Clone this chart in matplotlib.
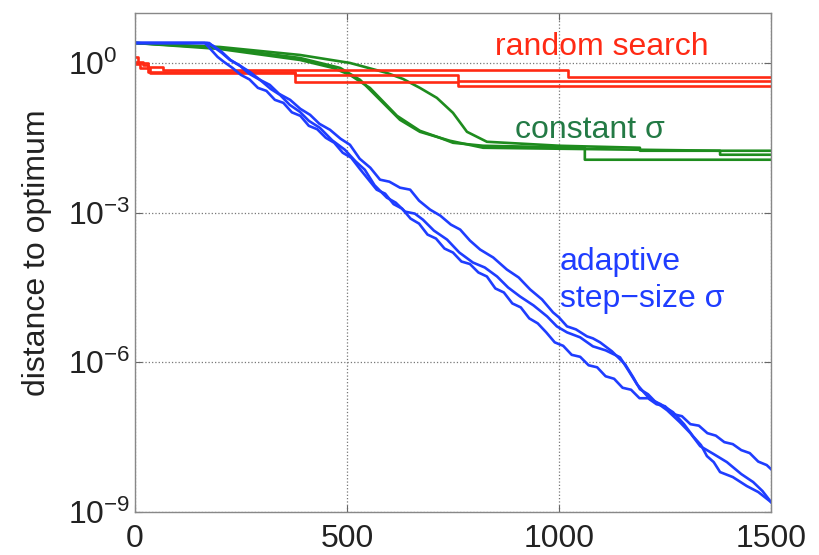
import numpy as np
import matplotlib
matplotlib.use("Agg")
import matplotlib.pyplot as plt
from matplotlib.ticker import FixedLocator, LogFormatterSciNotation, NullLocator

plt.rcParams['font.family'] = ['Liberation Sans', 'DejaVu Sans']
plt.rcParams['mathtext.fontset'] = 'custom'
plt.rcParams['mathtext.rm'] = 'Liberation Sans'
plt.rcParams['mathtext.it'] = 'Liberation Sans:italic'
plt.rcParams['mathtext.default'] = 'regular'

# distance to optimum, stored as log10 values
# random search: best-so-far, piecewise constant
rand1_x = [0, 8, 30, 66, 1022, 1500]
rand1_log = [0.12, 0.0, -0.08, -0.14, -0.28, -0.28]
rand2_x = [0, 20, 31, 377, 762, 1500]
rand2_log = [0.02, -0.04, -0.18, -0.24, -0.36, -0.36]
rand3_x = [0, 12, 35, 377, 762, 1500]
rand3_log = [-0.02, -0.10, -0.20, -0.38, -0.46, -0.46]

# constant step size
const1_x = [0, 200, 389, 467, 507, 554, 618, 672, 719, 750, 821, 1061, 1061, 1500]
const1_log = [0.40, 0.28, 0.06, -0.10, -0.24, -0.50, -1.06, -1.36, -1.50, -1.60, -1.66, -1.70, -1.94, -1.94]
const2_x = [0, 200, 389, 484, 531, 578, 625, 672, 743, 821, 1191, 1380, 1380, 1500]
const2_log = [0.40, 0.30, 0.10, -0.10, -0.34, -0.74, -1.14, -1.38, -1.56, -1.70, -1.74, -1.76, -1.84, -1.84]
const3_x = [0, 200, 389, 507, 594, 632, 672, 712, 750, 783, 830, 1002, 1191, 1191, 1500]
const3_log = [0.40, 0.32, 0.16, 0.0, -0.20, -0.32, -0.50, -0.70, -1.00, -1.38, -1.58, -1.66, -1.70, -1.76, -1.76]

# adaptive step size
adapt1_x = [0, 165, 180, 195, 210, 230, 250, 270, 290, 310, 330, 350, 370, 390, 410, 430,
            450, 470, 490, 510, 530, 550, 570, 590, 610, 630, 650, 670, 690, 710, 730, 750,
            770, 790, 810, 830, 850, 870, 890, 910, 930, 950, 970, 990, 1010, 1030, 1050,
            1070, 1090, 1110, 1130, 1150, 1170, 1190, 1210, 1230, 1250, 1270, 1290, 1310,
            1330, 1350, 1370, 1390, 1410, 1430, 1450, 1470, 1490, 1500]
adapt1_log = [0.40, 0.40, 0.26, 0.12, 0.02, -0.10, -0.24, -0.33, -0.50, -0.56, -0.74, -0.80,
              -0.99, -1.06, -1.26, -1.33, -1.50, -1.60, -1.80, -1.90, -2.12, -2.33, -2.54,
              -2.62, -2.83, -2.92, -3.12, -3.22, -3.44, -3.52, -3.72, -3.80, -3.98, -4.03,
              -4.20, -4.28, -4.52, -4.60, -4.82, -4.90, -5.12, -5.22, -5.40, -5.60, -5.67,
              -5.85, -5.89, -6.06, -6.10, -6.28, -6.33, -6.51, -6.55, -6.72, -6.72, -6.84,
              -6.88, -7.04, -7.08, -7.24, -7.27, -7.42, -7.47, -7.60, -7.64, -7.76, -7.82,
              -7.99, -8.06, -8.14]
adapt2_x = [0, 170, 185, 205, 225, 248, 270, 295, 320, 342, 365, 389, 410, 436, 465, 495,
            520, 542, 565, 594, 615, 637, 660, 679, 705, 736, 765, 797, 825, 854, 880, 908,
            940, 972, 995, 1019, 1050, 1080, 1110, 1144, 1165, 1184, 1200, 1215, 1240, 1269,
            1295, 1316, 1335, 1349, 1365, 1380, 1410, 1443, 1470, 1500]
adapt2_log = [0.40, 0.40, 0.34, 0.22, 0.06, -0.06, -0.22, -0.34, -0.52, -0.64, -0.84, -0.98,
              -1.16, -1.30, -1.55, -1.74, -1.97, -2.14, -2.45, -2.70, -2.80, -2.98, -3.02,
              -3.14, -3.36, -3.54, -3.80, -4.00, -4.10, -4.28, -4.50, -4.68, -4.86, -5.08,
              -5.28, -5.40, -5.50, -5.68, -5.76, -5.90, -6.18, -6.44, -6.60, -6.74, -6.84,
              -7.00, -7.24, -7.48, -7.66, -7.88, -8.00, -8.20, -8.30, -8.48, -8.60, -8.80]
adapt3_x = [0, 175, 189, 205, 224, 245, 271, 295, 318, 340, 366, 390, 413, 435, 460, 485,
            507, 530, 555, 578, 600, 625, 649, 670, 696, 720, 745, 767, 790, 814, 845, 877,
            905, 932, 960, 986, 1000, 1019, 1040, 1066, 1080, 1097, 1125, 1156, 1175, 1191,
            1210, 1226, 1255, 1285, 1310, 1333, 1365, 1396, 1430, 1458, 1480, 1500]
adapt3_log = [0.40, 0.40, 0.30, 0.20, 0.06, -0.04, -0.18, -0.34, -0.44, -0.62, -0.74, -0.92,
              -1.04, -1.22, -1.34, -1.52, -1.64, -1.92, -2.10, -2.34, -2.38, -2.50, -2.54,
              -2.76, -2.94, -3.06, -3.24, -3.34, -3.56, -3.74, -3.90, -4.14, -4.30, -4.54,
              -4.74, -5.00, -5.10, -5.28, -5.34, -5.48, -5.52, -5.60, -5.78, -6.04, -6.30,
              -6.54, -6.64, -6.78, -6.96, -7.20, -7.42, -7.68, -7.84, -8.00, -8.24, -8.40,
              -8.58, -8.80]

x_ticks = [0, 500, 1000, 1500]
y_ticks = [1e-9, 1e-6, 1e-3, 1e0]

red = '#ff2a14'
green = '#1e8c1e'
blue = '#1f3dff'
lw = 1.9

fig = plt.figure(figsize=(8.2, 5.55), dpi=100)
ax = fig.add_axes([0.1646, 0.0775, 0.7756, 0.899])

for xs, ls in [(const1_x, const1_log), (const2_x, const2_log), (const3_x, const3_log)]:
    ax.plot(xs, 10.0 ** np.array(ls), color=green, lw=lw)
for xs, ls in [(rand1_x, rand1_log), (rand2_x, rand2_log), (rand3_x, rand3_log)]:
    ax.step(xs, 10.0 ** np.array(ls), where='post', color=red, lw=lw)
for xs, ls in [(adapt1_x, adapt1_log), (adapt2_x, adapt2_log), (adapt3_x, adapt3_log)]:
    ax.plot(xs, 10.0 ** np.array(ls), color=blue, lw=lw)

ax.set_yscale('log')
ax.set_xlim(0, 1500)
ax.set_ylim(1e-9, 1e1)
ax.xaxis.set_major_locator(FixedLocator(x_ticks))
ax.yaxis.set_major_locator(FixedLocator(y_ticks))
ax.yaxis.set_major_formatter(LogFormatterSciNotation())
ax.yaxis.set_minor_locator(NullLocator())

ax.grid(True, linestyle=':', color='#777777', lw=0.9)
ax.tick_params(direction='in', length=5, width=0.8, color='#666666',
               top=True, right=True, labelsize=23, labelcolor='#222222')
# "10" of every y label starts at the same x, the exponent hangs to the right
ax.tick_params(axis='y', pad=48)
for lab in ax.get_yticklabels():
    lab.set_horizontalalignment('left')
ax.tick_params(axis='x', pad=9)
for sp in ax.spines.values():
    sp.set_color('#888888')
    sp.set_linewidth(1.0)

ax.set_ylabel('distance to optimum', fontsize=23, color='#222222')
ax.yaxis.set_label_coords(-0.13, 0.52)

ax.text(1101, 10 ** 0.32, 'random search', color=red, fontsize=23,
        ha='center', va='center')
ax.text(1073, 10 ** -1.34, 'constant σ', color='#237a45', fontsize=23,
        ha='center', va='center')
ax.text(1002, 10 ** -3.98, 'adaptive', color=blue, fontsize=23,
        ha='left', va='center')
ax.text(1002, 10 ** -4.74, 'step\u2212size σ', color=blue, fontsize=23,
        ha='left', va='center')

fig.savefig('out.png', dpi=100)
